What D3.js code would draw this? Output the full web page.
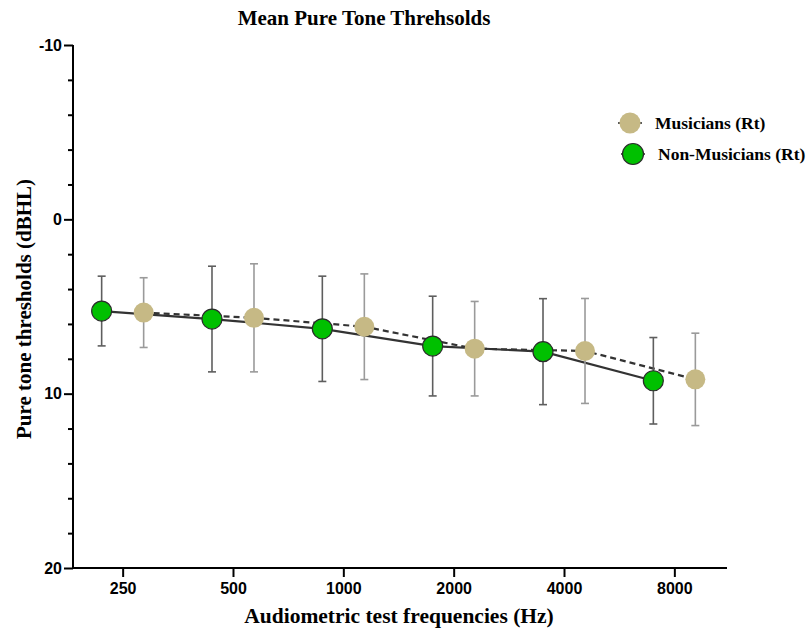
<!DOCTYPE html>
<html>
<head>
<meta charset="utf-8">
<script src="https://cdn.jsdelivr.net/npm/d3@7"></script>
<style>
  body { margin: 0; background: #fff; }
  .tick text { font-family: "Liberation Sans", Arial, sans-serif; font-weight: bold; font-size: 16px; fill: #000; }
  .serif { font-family: "Liberation Serif", "Times New Roman", serif; font-weight: bold; }
</style>
</head>
<body>
<div id="chart"></div>
<script>
// data (dB HL, mean and error)
let freqs = ["250", "500", "1000", "2000", "4000", "8000"];
let musMean = [5.35, 5.65, 6.16, 7.42, 7.55, 9.18];
let musErr = [2.0, 3.1, 3.03, 2.71, 3.01, 2.65];
let nonMean = [5.26, 5.72, 6.28, 7.27, 7.59, 9.26];
let nonErr = [2.0, 3.03, 3.02, 2.86, 3.04, 2.48];
let yTicks = [-10, 0, 10, 20];

let width = 808;
let height = 631;

let svg = d3.select("#chart").append("svg")
  .attr("width", width)
  .attr("height", height);

let xScale = d3.scalePoint()
  .domain(freqs)
  .range([73, 724])
  .padding(0.45);

let yScale = d3.scaleLinear()
  .domain([-10, 20])
  .range([45, 568]);

let offset = 21;

//axes
let yAxis = d3.axisLeft(yScale).tickValues(yTicks).tickSize(9).tickPadding(2).tickFormat(d => String(d));
let yMinor = d3.axisLeft(yScale).tickValues(d3.range(-10, 21, 2).filter(d => d % 10 != 0)).tickSize(5).tickFormat("");
let xAxis = d3.axisBottom(xScale).tickSize(9).tickPadding(6);

let gx = svg.append("g")
  .attr("transform", `translate(0,${yScale(20)})`)
  .call(xAxis);
let gy = svg.append("g")
  .attr("transform", `translate(73,0)`)
  .call(yAxis);
let gyMinor = svg.append("g")
  .attr("transform", `translate(73,0)`)
  .call(yMinor);

for (let g of [gx, gy, gyMinor]) {
  g.select(".domain").attr("stroke", "#000").attr("stroke-width", 2);
  g.selectAll(".tick line").attr("stroke", "#000").attr("stroke-width", 2);
}
gx.select(".domain").attr("d", `M73,0H727`);
gy.select(".domain").attr("d", `M0,${yScale(-10)}V${yScale(20)}`);
gyMinor.select(".domain").remove();

let series = [
  { name: "Musicians (Rt)", mean: musMean, err: musErr, dx: offset, fill: "#c6b985", stroke: "none", bar: "#9a9a9a", dash: "6,4" },
  { name: "Non-Musicians (Rt)", mean: nonMean, err: nonErr, dx: -offset, fill: "#00c000", stroke: "#2b2b2b", bar: "#5e5e5e", dash: null }
];

let line = d3.line()
  .x(d => d.x)
  .y(d => yScale(d.v));

for (let s of series) {
  s.pts = freqs.map((f, i) => ({ x: xScale(f) + s.dx, v: s.mean[i], e: s.err[i] }));
}

// lines
for (let s of series) {
  svg.append("path")
    .attr("d", line(s.pts))
    .attr("fill", "none")
    .attr("stroke", "#333")
    .attr("stroke-width", 2.2)
    .attr("stroke-dasharray", s.dash);
}

// error bars
for (let s of series) {
  let g = svg.append("g").attr("stroke", s.bar).attr("stroke-width", 1.6);
  g.selectAll(".v").data(s.pts).enter().append("line")
    .attr("x1", d => d.x).attr("x2", d => d.x)
    .attr("y1", d => yScale(d.v - d.e)).attr("y2", d => yScale(d.v + d.e));
  g.selectAll(".t").data(s.pts).enter().append("line")
    .attr("x1", d => d.x - 4).attr("x2", d => d.x + 4)
    .attr("y1", d => yScale(d.v - d.e)).attr("y2", d => yScale(d.v - d.e));
  g.selectAll(".b").data(s.pts).enter().append("line")
    .attr("x1", d => d.x - 4).attr("x2", d => d.x + 4)
    .attr("y1", d => yScale(d.v + d.e)).attr("y2", d => yScale(d.v + d.e));
}

// points
for (let s of series) {
  svg.append("g").selectAll("circle")
    .data(s.pts)
    .enter()
    .append("circle")
    .attr("cx", d => d.x)
    .attr("cy", d => yScale(d.v))
    .attr("r", 10)
    .attr("fill", s.fill)
    .attr("stroke", s.stroke)
    .attr("stroke-width", 1.2);
}

// legend
let legend = svg.append("g");
series.forEach((s, i) => {
  let cx = 630 + i * 3;
  let cy = 123 + i * 31;
  legend.append("line")
    .attr("x1", cx - 12).attr("x2", cx + 12)
    .attr("y1", cy).attr("y2", cy)
    .attr("stroke", "#333").attr("stroke-width", 1.6);
  legend.append("circle")
    .attr("cx", cx).attr("cy", cy).attr("r", 10.5)
    .attr("fill", s.fill).attr("stroke", s.stroke).attr("stroke-width", 1.2);
  legend.append("text")
    .attr("class", "serif")
    .attr("x", cx + 25).attr("y", cy + 5.5)
    .style("font-size", "17.5px")
    .text(s.name);
});

// titles
svg.append("text")
  .attr("class", "serif")
  .attr("x", 364).attr("y", 25)
  .attr("text-anchor", "middle")
  .style("font-size", "21px")
  .text("Mean Pure Tone Threhsolds");

svg.append("text")
  .attr("class", "serif")
  .attr("x", 399).attr("y", 623)
  .attr("text-anchor", "middle")
  .style("font-size", "21.5px")
  .text("Audiometric test frequencies (Hz)");

svg.append("text")
  .attr("class", "serif")
  .attr("transform", "translate(31,309) rotate(-90)")
  .attr("text-anchor", "middle")
  .style("font-size", "21px")
  .text("Pure tone thresholds (dBHL)");
</script>
</body>
</html>
